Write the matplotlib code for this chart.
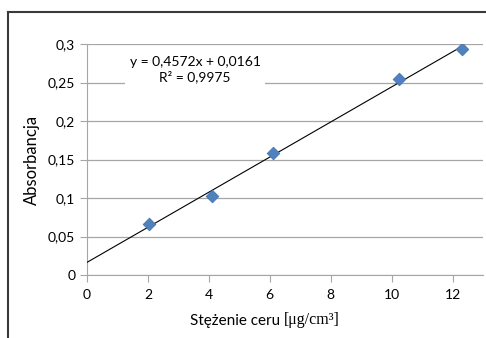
import numpy as np
import matplotlib.pyplot as plt
from matplotlib.lines import Line2D

# data
stezenie = [2.05, 4.1, 6.1, 10.25, 12.3]
absorbancja = [0.066, 0.103, 0.158, 0.255, 0.293]
x_ticks = [0, 2, 4, 6, 8, 10, 12]
y_ticks = [0, 0.05, 0.1, 0.15, 0.2, 0.25, 0.3]
y_labels = ["0", "0,05", "0,1", "0,15", "0,2", "0,25", "0,3"]
eq_text = "y = 0,4572x + 0,0161\nR² = 0,9975"

plt.rcParams['font.family'] = ['Lato', 'DejaVu Sans']

fig = plt.figure(figsize=(4.86, 3.38), dpi=100)
ax = fig.add_axes([87/486, 1-275/338, 396/486, 231/338])

# linear trendline, like Excel
a, b = np.polyfit(stezenie, absorbancja, 1)
xs = np.array([0, max(stezenie)])
ax.plot(xs, a*xs + b, color='black', lw=0.8, zorder=3)

ax.scatter(stezenie, absorbancja, marker='D', s=42, color='#4F81BD',
           edgecolors='#3F6FA8', linewidths=0.5, zorder=4)

ax.set_xlim(0, 13)
ax.set_ylim(0, 0.3)
ax.set_xticks(x_ticks)
ax.set_yticks(y_ticks)
ax.set_yticklabels(y_labels)
ax.grid(axis='y', color='#A6A6A6', lw=0.9)
ax.set_axisbelow(True)
for s in ['top', 'right']:
    ax.spines[s].set_visible(False)
for s in ['left', 'bottom']:
    ax.spines[s].set_color('#A6A6A6')
ax.tick_params(colors='#A6A6A6', labelcolor='black', labelsize=10, length=5)
ax.tick_params(axis='x', pad=5)

ax.text(3.55, 0.267, eq_text, ha='center', va='center', fontsize=10,
        linespacing=1.2,
        bbox=dict(facecolor='white', edgecolor='none', pad=3), zorder=2)

ax.set_ylabel("Absorbancja", fontsize=12, labelpad=6)

t = fig.text(0.39, 0.03, "Stężenie ceru ", fontsize=11, va='bottom')
ax.annotate("[μg/cm³]", xy=(1, 0), xycoords=t, va='bottom', ha='left',
            fontsize=11.5, family='Liberation Serif', annotation_clip=False)

# outer chart border (cropped)
fig.add_artist(Line2D([8/486, 8/486], [0, 1-12/338], color='#3A3A3A', lw=1.5))
fig.add_artist(Line2D([8/486, 1], [1-12/338, 1-12/338], color='#3A3A3A', lw=1.5))

fig.savefig('out.png', dpi=100)
